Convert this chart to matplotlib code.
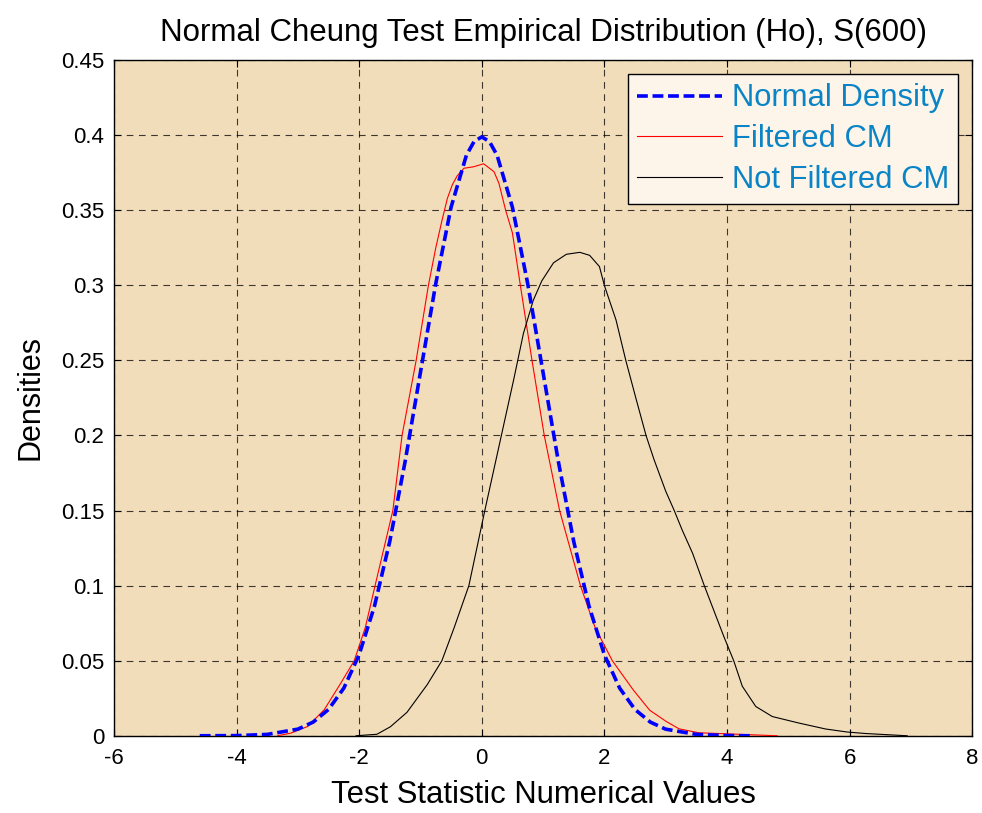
import matplotlib.pyplot as plt

# normal density (blue dashed)
norm_x = [-4.6, -4.0, -3.5, -3.0, -2.75, -2.5, -2.25, -2.0, -1.75, -1.5, -1.25, -1.0,
          -0.75, -0.5, -0.25, -0.125, 0.0, 0.125, 0.25, 0.5, 0.75, 1.0, 1.25, 1.5,
          1.75, 2.0, 2.25, 2.5, 2.75, 3.0, 3.5, 4.0, 4.4]
norm_y = [0.0, 0.0001, 0.0009, 0.0044, 0.0091, 0.0175, 0.0317, 0.054, 0.0863, 0.1295,
          0.1826, 0.242, 0.3011, 0.3521, 0.3867, 0.3958, 0.3989, 0.3958, 0.3867, 0.3521,
          0.3011, 0.242, 0.1826, 0.1295, 0.0863, 0.054, 0.0317, 0.0175, 0.0091, 0.0044,
          0.0009, 0.0001, 0.0]

# filtered CM (red)
filt_x = [-3.33, -3.11, -2.84, -2.57, -2.3, -2.08, -1.9, -1.74, -1.45, -1.3, -1.07, -0.87,
          -0.75, -0.65, -0.56, -0.48, -0.4, -0.29, -0.13, 0.03, 0.2, 0.28, 0.39, 0.5,
          0.63, 0.82, 1.02, 1.27, 1.61, 1.85, 2.13, 2.47, 2.74, 3.01, 3.22, 3.54, 4.82]
filt_y = [0.0, 0.0018, 0.0062, 0.0173, 0.035, 0.05, 0.072, 0.1, 0.15, 0.2, 0.25, 0.3,
          0.325, 0.343, 0.358, 0.367, 0.373, 0.378, 0.379, 0.381, 0.3757, 0.368, 0.35, 0.335,
          0.3, 0.25, 0.2, 0.15, 0.1, 0.072, 0.05, 0.0306, 0.017, 0.0095, 0.0046, 0.002, 0.0]

# not filtered CM (black)
raw_x = [-2.05, -1.71, -1.49, -1.22, -0.89, -0.65, -0.45, -0.21, 0.05, 0.32, 0.52, 0.68,
         0.84, 0.98, 1.17, 1.38, 1.6, 1.76, 1.92, 2.0, 2.19, 2.35, 2.52, 2.68, 2.81, 3.0,
         3.14, 3.27, 3.44, 3.63, 3.95, 4.11, 4.25, 4.47, 4.74, 5.17, 5.61, 5.96, 6.26, 6.94]
raw_y = [0.0, 0.001, 0.006, 0.0156, 0.034, 0.05, 0.072, 0.1, 0.15, 0.2, 0.237, 0.268,
         0.29, 0.303, 0.315, 0.3207, 0.322, 0.32, 0.3125, 0.3, 0.277, 0.25, 0.224, 0.2, 0.184,
         0.163, 0.15, 0.137, 0.1215, 0.1, 0.066, 0.05, 0.033, 0.0195, 0.0128, 0.0085, 0.0045,
         0.0025, 0.0015, 0.0]

xticks = [-6, -4, -2, 0, 2, 4, 6, 8]
yticks = [0, 0.05, 0.1, 0.15, 0.2, 0.25, 0.3, 0.35, 0.4, 0.45]
ytick_labels = ['0', '0.05', '0.1', '0.15', '0.2', '0.25', '0.3', '0.35', '0.4', '0.45']

plt.rcParams['font.family'] = ['Liberation Sans', 'DejaVu Sans']
plt.rcParams['axes.unicode_minus'] = False

fig = plt.figure(figsize=(9.82, 8.13), dpi=100)
ax = fig.add_axes([0.116, 0.095, 0.874, 0.831])
ax.set_facecolor('#F2DDBA')

ax.plot(norm_x, norm_y, color='#0000FF', lw=2.6, linestyle=(0, (3, 1.3)), label='Normal Density', zorder=4)
ax.plot(filt_x, filt_y, color='#FF0000', lw=0.8, label='Filtered CM', zorder=3)
ax.plot(raw_x, raw_y, color='black', lw=0.8, label='Not Filtered CM', zorder=3)

ax.set_xlim(-6, 8)
ax.set_ylim(0, 0.45)
ax.set_xticks(xticks)
ax.set_yticks(yticks)
ax.set_yticklabels(ytick_labels)
ax.tick_params(direction='in', length=5, width=0.8, labelsize=16, top=True, right=True)
ax.tick_params(axis='x', pad=9)
ax.tick_params(axis='y', pad=7)
ax.grid(True, color='black', linestyle=(0, (6, 5)), lw=0.8, alpha=0.75)
ax.set_axisbelow(True)
for s in ax.spines.values():
    s.set_linewidth(1.0)

ax.set_title('Normal Cheung Test Empirical Distribution (Ho), S(600)', fontsize=22.5, pad=14)
ax.set_xlabel('Test Statistic Numerical Values', fontsize=22.3, labelpad=8)
ax.set_ylabel('Densities', fontsize=22, labelpad=11)

leg = ax.legend(loc='upper right', fontsize=22.3, fancybox=False, framealpha=1,
                facecolor='#FDF5EA', edgecolor='black', handlelength=2.75,
                handletextpad=0.3, labelspacing=0.35, borderpad=0.3, borderaxespad=0.45)
leg.get_frame().set_linewidth(1.0)
for t in leg.get_texts():
    t.set_color('#0A84C6')

fig.savefig('out.png', dpi=100)
